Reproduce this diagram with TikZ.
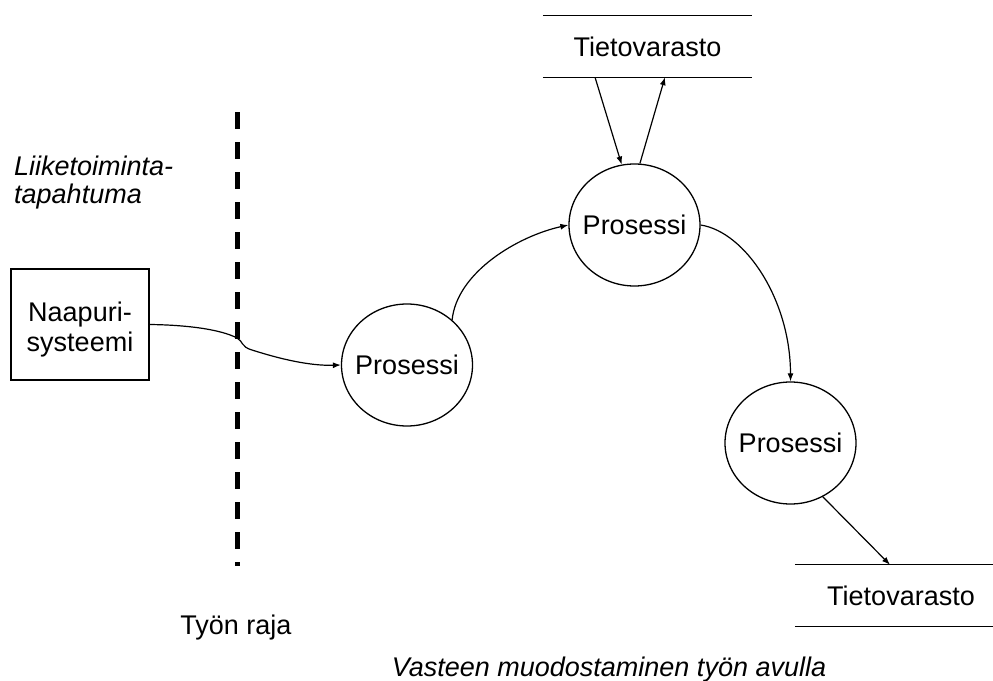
\documentclass[tikz,border=0pt]{standalone}
\usepackage{fontspec}
\setmainfont{Liberation Sans}
\usetikzlibrary{shapes.geometric,arrows.meta,calc}
\begin{document}
\begin{tikzpicture}[x=1pt,y=-1pt,
  txt/.style={font=\fontsize{27}{30}\selectfont, inner sep=0pt},
  itxt/.style={font=\fontsize{27}{30}\selectfont\itshape, inner sep=0pt},
  proc/.style={ellipse, draw, line width=1.3pt, minimum width=131pt,
    minimum height=122pt, inner sep=0pt, font=\fontsize{27}{30}\selectfont},
  store/.style={minimum height=61pt, inner sep=0pt,
    font=\fontsize{27}{30}\selectfont},
  storeline/.style={line width=1.3pt},
  extbox/.style={draw, line width=1.3pt, minimum width=138pt,
    minimum height=111pt, inner sep=0pt},
  flow/.style={line width=1.2pt, -{Latex[length=8pt,width=6pt]}},
  boundary/.style={line width=4.5pt, dash pattern=on 17pt off 13pt}
]
\clip (0,0) rectangle (993,680);

% work boundary
\coordinate (bt) at (237.5,112);
\coordinate (bb) at (237.5,566);
\draw[boundary] (bt) -- (bb);

% side labels
\node[itxt, anchor=base west] (lt1) at (14,175) {Liiketoiminta-};
\node[itxt, anchor=base west] (lt2) at (14,203) {tapahtuma};
\node[txt, anchor=base] (tr) at (236,634) {Työn raja};
\node[itxt, anchor=base] (vm) at (609,676) {Vasteen muodostaminen työn avulla};

% external system
\node[extbox] (nb) at (80,324.5) {};
\node[txt, anchor=base] (nb1) at (80,321) {Naapuri-};
\node[txt, anchor=base] (nb2) at (80,351) {systeemi};

% processes
\node[proc] (p1) at (407,365) {\makebox[0pt]{Prosessi}};
\node[proc] (p2) at (634.5,225) {\makebox[0pt]{Prosessi}};
\node[proc] (p3) at (790.5,443) {\makebox[0pt]{Prosessi}};

% data stores
\node[store, minimum width=209pt] (s1) at (647.5,46.5) {Tietovarasto};
\draw[storeline] (s1.north west) -- (s1.north east)
                 (s1.south west) -- (s1.south east);
\node[store, minimum width=212pt] (s2) at (901,595.5) {Tietovarasto};
\draw[storeline] (s2.north west) -- (s2.north east)
                 (s2.south west) -- (s2.south east);

% flows
\draw[flow] (nb.east) .. controls (190,325) and (222,330) .. (237,338)
  .. controls (243,341) and (241,347) .. (252,350)
  .. controls (280,359) and (310,366) .. (p1.west);
\draw[flow] (p1.45) .. controls +(5,-48) and +(-50,11) .. (p2.west);
\draw[flow] ([xshift=-52.5pt]s1.south) -- (p2.102.5);
\draw[flow] (p2.85) -- ([xshift=17.5pt]s1.south);
\draw[flow] (p2.east) .. controls +(45,7) and +(0,-81) .. (p3.north);
\draw[flow] (p3.301) -- ([xshift=-11pt]s2.north);
\end{tikzpicture}
\end{document}
